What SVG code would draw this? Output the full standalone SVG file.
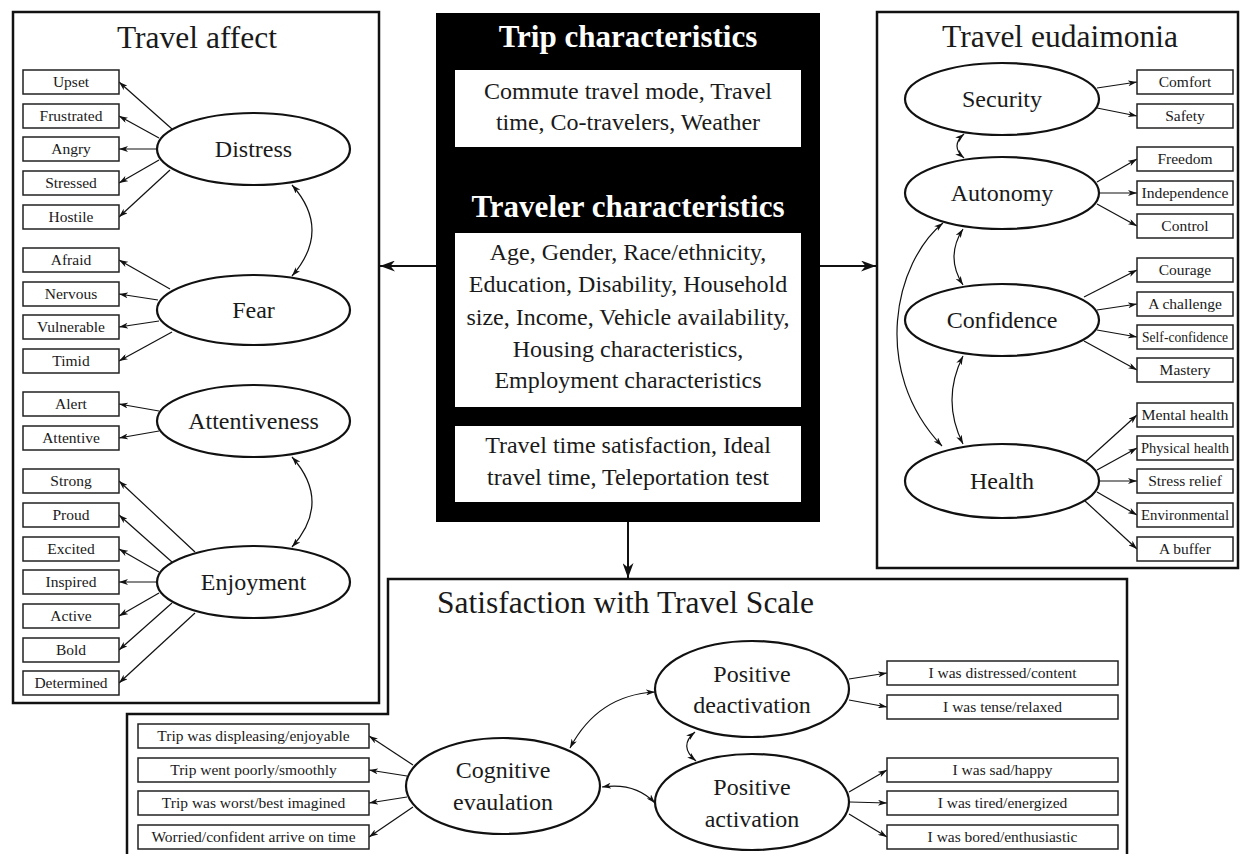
<svg xmlns="http://www.w3.org/2000/svg" width="1241" height="854" viewBox="0 0 1241 854">
<defs>
<marker id="ah" markerUnits="userSpaceOnUse" markerWidth="9" markerHeight="6" viewBox="0 0 9 6" refX="9" refY="3" orient="auto-start-reverse"><path d="M0,0 L9,3 L0,6 L2.5,3 z" fill="#111"/></marker>
<marker id="big" markerUnits="userSpaceOnUse" markerWidth="15" markerHeight="11" viewBox="0 0 15 11" refX="15" refY="5.5" orient="auto"><path d="M0,0 L15,5.5 L0,11 L4.5,5.5 z" fill="#111"/></marker>
<style>
.panel{fill:#fff;stroke:#111;stroke-width:2.5}
.box{fill:#fff;stroke:#222;stroke-width:1.5}
.ell{fill:#fff;stroke:#111;stroke-width:2.2}
.t{font-family:"Liberation Serif","Times New Roman",serif;fill:#1a1a1a;text-anchor:middle}
.s{font-size:15.5px}
.m{font-size:24px}
.h{font-size:31.5px}
.b{font-family:"Liberation Serif","Times New Roman",serif;font-weight:bold;font-size:31px;fill:#fff;text-anchor:middle}
.c{fill:none;stroke:#111;stroke-width:1.2}
.a{fill:none;stroke:#111;stroke-width:1.2;marker-end:url(#ah)}
.bi{fill:none;stroke:#111;stroke-width:1.2;marker-start:url(#ah);marker-end:url(#ah)}
.main{fill:none;stroke:#111;stroke-width:2;marker-end:url(#big)}
</style>
</defs>
<rect width="1241" height="854" fill="#fff"/>

<!-- Panels -->
<g id="panel-travel-affect">
<rect class="panel" x="13" y="12" width="366" height="691"/>
<text class="t h" x="197" y="48">Travel affect</text>
</g>
<g id="panel-travel-eudaimonia">
<rect class="panel" x="877" y="12" width="361" height="556"/>
<text class="t h" x="1060" y="47">Travel eudaimonia</text>
</g>
<g id="panel-satisfaction">
<path class="panel" d="M127,858 L127,714 L388,714 L388,579 L1127,579 L1127,858"/>
<text class="t h" x="437" y="613" style="text-anchor:start">Satisfaction with Travel Scale</text>
</g>

<!-- Center -->
<g id="center">
<rect x="436" y="13" width="384" height="509" fill="#000"/>
<text class="b" x="628" y="47">Trip characteristics</text>
<rect x="455" y="70" width="346" height="77" fill="#fff"/>
<text class="t m" x="628" y="99">Commute travel mode, Travel</text>
<text class="t m" x="628" y="130">time, Co-travelers, Weather</text>
<text class="b" x="628" y="217">Traveler characteristics</text>
<rect x="455" y="233" width="346" height="174" fill="#fff"/>
<text class="t m" x="628" y="260">Age, Gender, Race/ethnicity,</text>
<text class="t m" x="628" y="292">Education, Disability, Household</text>
<text class="t m" x="628" y="325">size, Income, Vehicle availability,</text>
<text class="t m" x="628" y="357">Housing characteristics,</text>
<text class="t m" x="628" y="388">Employment characteristics</text>
<rect x="455" y="426" width="346" height="76" fill="#fff"/>
<text class="t m" x="628" y="453">Travel time satisfaction, Ideal</text>
<text class="t m" x="628" y="485">travel time, Teleportation test</text>
</g>

<!-- Connectors -->
<g id="connectors">
<line class="main" x1="436" y1="266" x2="380" y2="266"/>
<line class="main" x1="820" y1="266" x2="876" y2="266"/>
<line class="main" x1="628" y1="522" x2="628" y2="578"/>

<!-- Distress -->
<line class="a" x1="172" y1="129" x2="119" y2="82"/>
<line class="a" x1="159" y1="138" x2="119" y2="116"/>
<line class="a" x1="157" y1="149" x2="119" y2="149"/>
<line class="a" x1="159" y1="160" x2="119" y2="183"/>
<line class="a" x1="170" y1="170" x2="119" y2="217"/>
<!-- Fear -->
<line class="a" x1="170" y1="289" x2="119" y2="260"/>
<line class="a" x1="158" y1="300" x2="119" y2="294"/>
<line class="a" x1="159" y1="321" x2="119" y2="327"/>
<line class="a" x1="172" y1="332" x2="119" y2="361"/>
<!-- Attentiveness -->
<line class="a" x1="159" y1="411" x2="119" y2="404"/>
<line class="a" x1="159" y1="431" x2="119" y2="438"/>
<!-- Enjoyment -->
<line class="a" x1="195" y1="552" x2="119" y2="481"/>
<line class="a" x1="172" y1="562" x2="119" y2="515"/>
<line class="a" x1="159" y1="572" x2="119" y2="549"/>
<line class="a" x1="157" y1="582" x2="119" y2="582"/>
<line class="a" x1="159" y1="593" x2="119" y2="616"/>
<line class="a" x1="172" y1="603" x2="119" y2="650"/>
<line class="a" x1="195" y1="613" x2="119" y2="683"/>
<path class="bi" d="M292,185 Q332,230 292,276"/>
<path class="bi" d="M292,457 Q332,502 292,547"/>

<!-- Right -->
<line class="a" x1="1097" y1="88" x2="1137" y2="82"/>
<line class="a" x1="1097" y1="108" x2="1137" y2="116"/>
<line class="a" x1="1097" y1="182" x2="1137" y2="159"/>
<line class="a" x1="1099" y1="193" x2="1137" y2="193"/>
<line class="a" x1="1097" y1="204" x2="1137" y2="226"/>
<line class="a" x1="1084" y1="297" x2="1137" y2="270"/>
<line class="a" x1="1097" y1="310" x2="1137" y2="304"/>
<line class="a" x1="1097" y1="330" x2="1137" y2="337"/>
<line class="a" x1="1084" y1="341" x2="1137" y2="370"/>
<line class="a" x1="1085" y1="462" x2="1137" y2="415"/>
<line class="a" x1="1097" y1="470" x2="1137" y2="448"/>
<line class="a" x1="1099" y1="481" x2="1137" y2="481"/>
<line class="a" x1="1097" y1="492" x2="1137" y2="515"/>
<line class="a" x1="1085" y1="501" x2="1137" y2="549"/>
<path class="bi" d="M964,134 Q950,146 964,158"/>
<path class="bi" d="M963,229 Q945,257 963,285"/>
<path class="bi" d="M963,356 Q941,400 963,444"/>
<path class="bi" d="M943,223 C895,262 870,370 942,446"/>

<!-- Bottom -->
<line class="a" x1="413" y1="765" x2="369" y2="736"/>
<line class="a" x1="407" y1="776" x2="369" y2="770"/>
<line class="a" x1="407" y1="797" x2="369" y2="803"/>
<line class="a" x1="413" y1="807" x2="369" y2="837"/>
<line class="a" x1="849" y1="679" x2="887" y2="673"/>
<line class="a" x1="849" y1="700" x2="887" y2="707"/>
<line class="a" x1="849" y1="792" x2="887" y2="770"/>
<line class="a" x1="850" y1="802" x2="887" y2="803"/>
<line class="a" x1="849" y1="814" x2="887" y2="837"/>
<path class="bi" d="M570,748 Q598,695 655,692"/>
<path class="bi" d="M602,787 Q635,782 655,803"/>
<path class="bi" d="M695,732 Q678,746 696,761"/>
</g>

<!-- Left nodes -->
<g id="distress"><ellipse class="ell" cx="253.5" cy="149" rx="96.5" ry="36"/><text class="t m" x="253.5" y="157">Distress</text></g>
<g id="fear"><ellipse class="ell" cx="253.5" cy="310" rx="96.5" ry="35"/><text class="t m" x="253.5" y="318">Fear</text></g>
<g id="attentiveness"><ellipse class="ell" cx="253.5" cy="421" rx="96.5" ry="36"/><text class="t m" x="253.5" y="429">Attentiveness</text></g>
<g id="enjoyment"><ellipse class="ell" cx="253.5" cy="582" rx="96.5" ry="36"/><text class="t m" x="253.5" y="590">Enjoyment</text></g>

<g id="upset"><rect class="box" x="23" y="70" width="96" height="24"/><text class="t s" x="71" y="87">Upset</text></g>
<g id="frustrated"><rect class="box" x="23" y="104" width="96" height="24"/><text class="t s" x="71" y="121">Frustrated</text></g>
<g id="angry"><rect class="box" x="23" y="137" width="96" height="24"/><text class="t s" x="71" y="154">Angry</text></g>
<g id="stressed"><rect class="box" x="23" y="171" width="96" height="24"/><text class="t s" x="71" y="188">Stressed</text></g>
<g id="hostile"><rect class="box" x="23" y="205" width="96" height="24"/><text class="t s" x="71" y="222">Hostile</text></g>
<g id="afraid"><rect class="box" x="23" y="248" width="96" height="24"/><text class="t s" x="71" y="265">Afraid</text></g>
<g id="nervous"><rect class="box" x="23" y="282" width="96" height="24"/><text class="t s" x="71" y="299">Nervous</text></g>
<g id="vulnerable"><rect class="box" x="23" y="315" width="96" height="24"/><text class="t s" x="71" y="332">Vulnerable</text></g>
<g id="timid"><rect class="box" x="23" y="349" width="96" height="24"/><text class="t s" x="71" y="366">Timid</text></g>
<g id="alert"><rect class="box" x="23" y="392" width="96" height="24"/><text class="t s" x="71" y="409">Alert</text></g>
<g id="attentive"><rect class="box" x="23" y="426" width="96" height="24"/><text class="t s" x="71" y="443">Attentive</text></g>
<g id="strong"><rect class="box" x="23" y="469" width="96" height="24"/><text class="t s" x="71" y="486">Strong</text></g>
<g id="proud"><rect class="box" x="23" y="503" width="96" height="24"/><text class="t s" x="71" y="520">Proud</text></g>
<g id="excited"><rect class="box" x="23" y="537" width="96" height="24"/><text class="t s" x="71" y="554">Excited</text></g>
<g id="inspired"><rect class="box" x="23" y="570" width="96" height="24"/><text class="t s" x="71" y="587">Inspired</text></g>
<g id="active"><rect class="box" x="23" y="604" width="96" height="24"/><text class="t s" x="71" y="621">Active</text></g>
<g id="bold"><rect class="box" x="23" y="638" width="96" height="24"/><text class="t s" x="71" y="655">Bold</text></g>
<g id="determined"><rect class="box" x="23" y="671" width="96" height="24"/><text class="t s" x="71" y="688">Determined</text></g>

<!-- Right nodes -->
<g id="security"><ellipse class="ell" cx="1002" cy="99" rx="97" ry="36"/><text class="t m" x="1002" y="107">Security</text></g>
<g id="autonomy"><ellipse class="ell" cx="1002" cy="193" rx="97" ry="36"/><text class="t m" x="1002" y="201">Autonomy</text></g>
<g id="confidence"><ellipse class="ell" cx="1002" cy="320" rx="97" ry="36"/><text class="t m" x="1002" y="328">Confidence</text></g>
<g id="health"><ellipse class="ell" cx="1002" cy="481" rx="97" ry="37"/><text class="t m" x="1002" y="489">Health</text></g>

<g id="comfort"><rect class="box" x="1137" y="70" width="96" height="24"/><text class="t s" x="1185" y="87">Comfort</text></g>
<g id="safety"><rect class="box" x="1137" y="104" width="96" height="24"/><text class="t s" x="1185" y="121">Safety</text></g>
<g id="freedom"><rect class="box" x="1137" y="147" width="96" height="24"/><text class="t s" x="1185" y="164">Freedom</text></g>
<g id="independence"><rect class="box" x="1137" y="181" width="96" height="24"/><text class="t s" x="1185" y="198" textLength="87" lengthAdjust="spacingAndGlyphs">Independence</text></g>
<g id="control"><rect class="box" x="1137" y="214" width="96" height="24"/><text class="t s" x="1185" y="231">Control</text></g>
<g id="courage"><rect class="box" x="1137" y="258" width="96" height="24"/><text class="t s" x="1185" y="275">Courage</text></g>
<g id="challenge"><rect class="box" x="1137" y="292" width="96" height="24"/><text class="t s" x="1185" y="309">A challenge</text></g>
<g id="selfconfidence"><rect class="box" x="1137" y="325" width="96" height="24"/><text class="t s" x="1185" y="342" textLength="86" lengthAdjust="spacingAndGlyphs">Self-confidence</text></g>
<g id="mastery"><rect class="box" x="1137" y="358" width="96" height="24"/><text class="t s" x="1185" y="375">Mastery</text></g>
<g id="mentalhealth"><rect class="box" x="1137" y="403" width="96" height="24"/><text class="t s" x="1185" y="420" textLength="87" lengthAdjust="spacingAndGlyphs">Mental health</text></g>
<g id="physicalhealth"><rect class="box" x="1137" y="436" width="96" height="24"/><text class="t s" x="1185" y="453" textLength="88" lengthAdjust="spacingAndGlyphs">Physical health</text></g>
<g id="stressrelief"><rect class="box" x="1137" y="469" width="96" height="24"/><text class="t s" x="1185" y="486">Stress relief</text></g>
<g id="environmental"><rect class="box" x="1137" y="503" width="96" height="24"/><text class="t s" x="1185" y="520" textLength="88" lengthAdjust="spacingAndGlyphs">Environmental</text></g>
<g id="buffer"><rect class="box" x="1137" y="537" width="96" height="24"/><text class="t s" x="1185" y="554">A buffer</text></g>

<!-- Bottom nodes -->
<g id="cognitive"><ellipse class="ell" cx="503" cy="786" rx="97" ry="48"/><text class="t m" x="503" y="778">Cognitive</text><text class="t m" x="503" y="810">evaulation</text></g>
<g id="posdeact"><ellipse class="ell" cx="752" cy="689" rx="97" ry="48"/><text class="t m" x="752" y="682">Positive</text><text class="t m" x="752" y="713">deactivation</text></g>
<g id="posact"><ellipse class="ell" cx="752" cy="802" rx="97" ry="48"/><text class="t m" x="752" y="795">Positive</text><text class="t m" x="752" y="827">activation</text></g>

<g id="displeasing"><rect class="box" x="138" y="724" width="231" height="24"/><text class="t s" x="253.5" y="741">Trip was displeasing/enjoyable</text></g>
<g id="poorly"><rect class="box" x="138" y="758" width="231" height="24"/><text class="t s" x="253.5" y="775">Trip went poorly/smoothly</text></g>
<g id="worst"><rect class="box" x="138" y="791" width="231" height="24"/><text class="t s" x="253.5" y="808">Trip was worst/best imagined</text></g>
<g id="worried"><rect class="box" x="138" y="825" width="231" height="24"/><text class="t s" x="253.5" y="842">Worried/confident arrive on time</text></g>

<g id="distressed"><rect class="box" x="887" y="661" width="231" height="24"/><text class="t s" x="1002.5" y="678">I was distressed/content</text></g>
<g id="tense"><rect class="box" x="887" y="695" width="231" height="24"/><text class="t s" x="1002.5" y="712">I was tense/relaxed</text></g>
<g id="sad"><rect class="box" x="887" y="758" width="231" height="24"/><text class="t s" x="1002.5" y="775">I was sad/happy</text></g>
<g id="tired"><rect class="box" x="887" y="791" width="231" height="24"/><text class="t s" x="1002.5" y="808">I was tired/energized</text></g>
<g id="bored"><rect class="box" x="887" y="825" width="231" height="24"/><text class="t s" x="1002.5" y="842">I was bored/enthusiastic</text></g>
</svg>
